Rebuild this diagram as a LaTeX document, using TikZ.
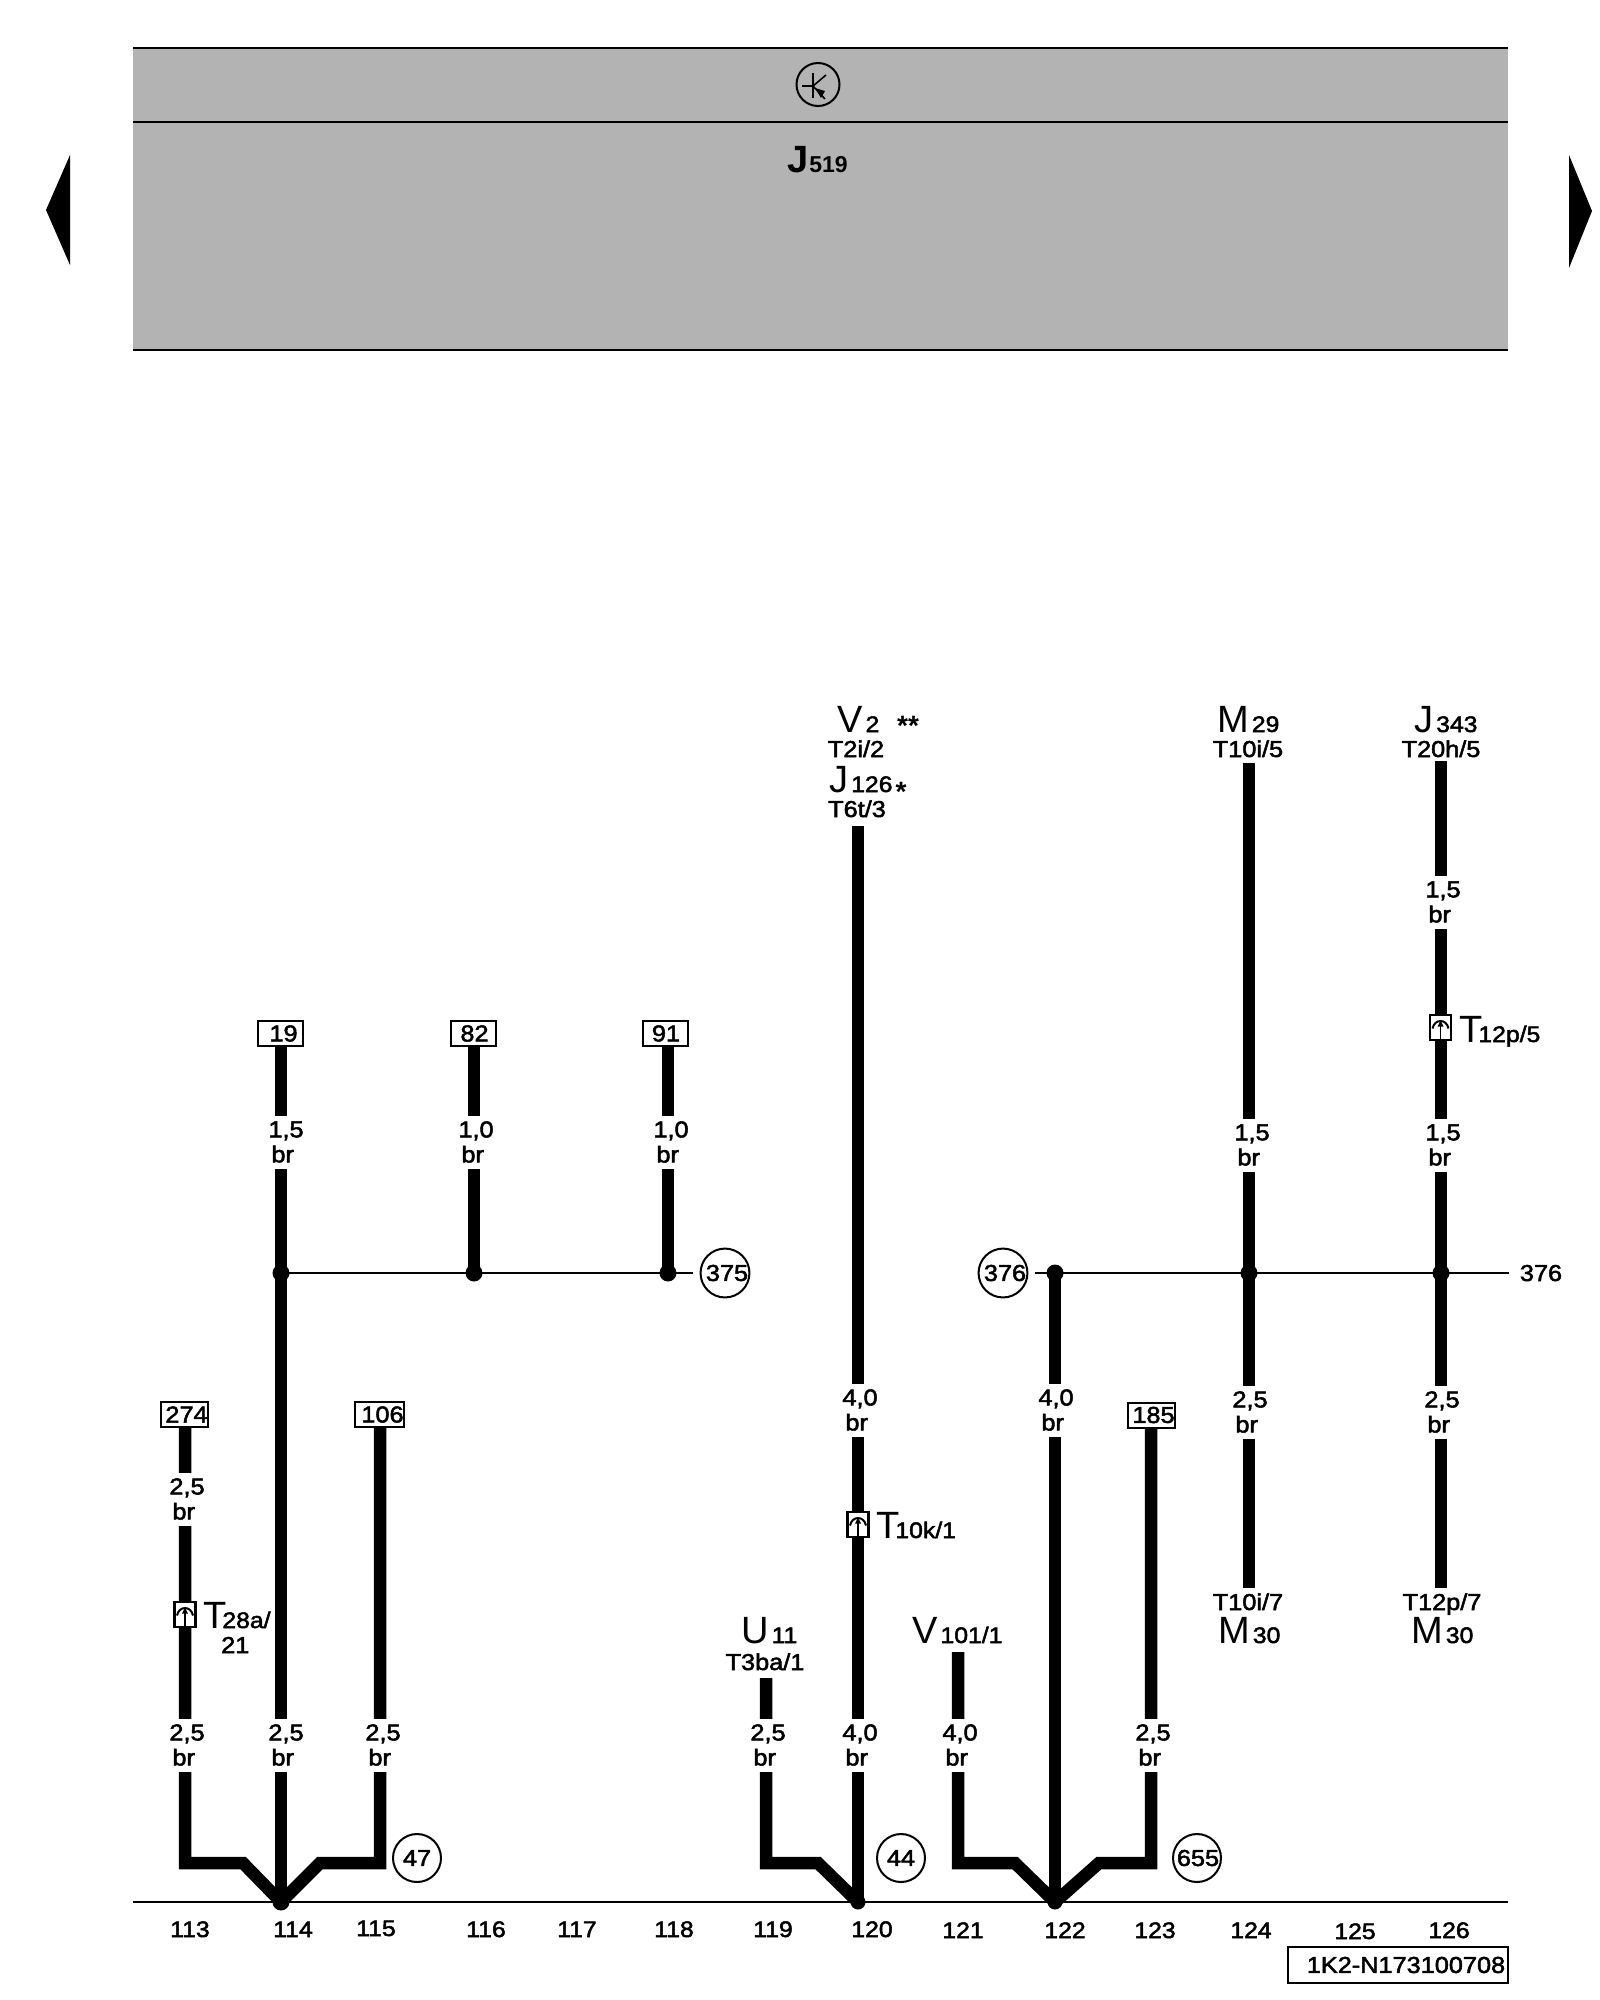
\documentclass[tikz,border=0pt]{standalone}
\usepackage{fontspec}
\setmainfont{Liberation Sans}[BoldFont=Liberation Sans,BoldFeatures={FakeBold=2.2,FakeStretch=1.1}]
\newfontfamily\heavyfont{Liberation Sans Bold}
\newcommand{\subname}[1]{\kern3pt{\bfseries\fontsize{22.5}{22.5}\selectfont #1}}
\newcommand{\brown}{\hspace*{3pt}br}
\definecolor{panelgray}{RGB}{179,179,179}
\tikzset{
    wire/.style={line width=12.5pt},
    thinwire/.style={line width=2pt},
    bigname/.style={anchor=base west,inner sep=0pt,font=\fontsize{38}{38}\selectfont},
    pinname/.style={anchor=base,inner sep=0pt,font=\bfseries\fontsize{23}{23}\selectfont},
    gauge/.style={fill=white,inner sep=0pt,align=left,minimum height=53pt,font=\bfseries\fontsize{23}{25}\selectfont},
    refbox/.style={draw,fill=white,line width=2pt,inner sep=0pt,minimum width=45pt,minimum height=25pt,font=\bfseries\fontsize{23}{23}\selectfont},
    refcircle/.style={circle,draw,line width=2pt,inner sep=0pt,minimum size=48pt,font=\bfseries\fontsize{23}{23}\selectfont},
    junction/.style={circle,fill=black,inner sep=0pt,minimum size=17pt},
    sheetno/.style={anchor=base,inner sep=0pt,font=\bfseries\fontsize{22.5}{22.5}\selectfont},
    plug/.pic={
        \draw [line width=2.4pt,fill=white] (-10.5,-12.5) rectangle (10.5,12.5);
        \draw [line width=2pt] (-8,1) .. controls (-6,-9) and (6,-9) .. (8,1);
        \draw [line width=1.8pt] (0,-5) -- (0,12);
        \fill (0,-7) -- (-3,-1) -- (3,-1) -- cycle;
    }
}
\begin{document}
\begin{tikzpicture}[line join=miter,x=1pt,y=-1pt]
    \useasboundingbox (0,0) rectangle (1600,2000);
    % control unit panel
    \fill [panelgray] (133,48) rectangle (1508,350);
    \draw [line width=2pt] (133,48) -- (1508,48);
    \draw [line width=2pt] (133,121.5) -- (1508,121.5);
    \draw [line width=2pt] (133,350) -- (1508,350);
    \draw [line width=2pt] (818,84.5) circle (21.5pt);
    \draw [line width=1.6pt] (813,73) -- (813,98);
    \draw [line width=1.6pt] (802,86) -- (813,86);
    \draw [line width=1.6pt] (813,86) -- (826,75);
    \draw [line width=1.6pt] (813,86) -- (825,99);
    \fill (815,88) -- (825,91) -- (821,98) -- cycle;
    \node [bigname,font=\heavyfont\fontsize{38}{38}\selectfont] (j519) at (787,172) {J\kern1pt{\fontsize{23}{23}\selectfont 519}};
    % page arrows
    \fill [line join=round] (70,155) -- (46,210) -- (70,265) -- cycle;
    \fill [line join=round] (1569,155) -- (1592,211) -- (1569,268) -- cycle;
    % terminals
    \node [refbox] (r19) at (280.5,1033.5) {\hspace*{6pt}19};
    \node [refbox] (r82) at (473,1033.5) {\hspace*{3pt}82};
    \node [refbox] (r91) at (665.5,1033.5) {\hspace*{1pt}91};
    \node [refbox] (r274) at (184.5,1414.5) {\hspace*{4pt}274};
    \node [refbox] (r106) at (379.5,1414.5) {\hspace*{6pt}106};
    \node [refbox] (r185) at (1151.5,1415) {\hspace*{4pt}185};
    % junctions
    \node [junction] (n19) at (281,1273) {};
    \node [junction] (n82) at (474,1273) {};
    \node [junction] (n91) at (668,1273) {};
    \node [junction] (n122) at (1055,1273) {};
    \node [junction] (n124) at (1249,1273) {};
    \node [junction] (n126) at (1441,1273) {};
    \node [junction] (g114) at (281,1902) {};
    \node [junction,minimum size=15pt] (g120) at (858,1902) {};
    \node [junction,minimum size=15pt] (g122) at (1055,1902) {};
    % free ends and bends
    \coordinate (e120) at (858,826);
    \coordinate (e124) at (1249,763);
    \coordinate (e126) at (1441,761);
    \coordinate (f124) at (1249,1588);
    \coordinate (f126) at (1441,1588);
    \coordinate (e119) at (766,1678);
    \coordinate (e121) at (958,1652);
    \coordinate (c113) at (185,1863);
    \coordinate (d113) at (243,1863);
    \coordinate (c115) at (380,1863);
    \coordinate (d115) at (320,1863);
    \coordinate (c119) at (766,1863);
    \coordinate (d119) at (818,1863);
    \coordinate (c121) at (958,1863);
    \coordinate (d121) at (1015,1863);
    \coordinate (c123) at (1151,1863);
    \coordinate (d123) at (1099,1863);
    \coordinate (bl) at (133,1902);
    \coordinate (br) at (1508,1902);
    \coordinate (sl) at (1035,1273);
    \coordinate (sr) at (1509,1273);
    \coordinate (st) at (693,1273);
    % thin lines
    \draw [thinwire] (bl) -- (br);
    \draw [thinwire] (n19.center) -- (st);
    \draw [thinwire] (sl) -- (sr);
    % wires
    \draw [wire] (r19.south -| n19) -- (g114.center);
    \draw [wire] (r82.south -| n82) -- (n82.center);
    \draw [wire] (r91.south -| n91) -- (n91.center);
    \draw [wire] (e120) -- (g120.center);
    \draw [wire] (n122.center) -- (g122.center);
    \draw [wire] (e124) -- (f124);
    \draw [wire] (e126) -- (f126);
    \draw [wire] (r274.south -| c113) -- (c113) -- (d113) -- (g114.center);
    \draw [wire] (r106.south -| c115) -- (c115) -- (d115) -- (g114.center);
    \draw [wire] (e119) -- (c119) -- (d119) -- (g120.center);
    \draw [wire] (e121) -- (c121) -- (d121) -- (g122.center);
    \draw [wire] (r185.south -| c123) -- (c123) -- (d123) -- (g122.center);
    % wire sizes
    \node [gauge] (w1) at (187,1499) {2,5\\\brown};
    \node [gauge] (w2) at (187,1745) {2,5\\\brown};
    \node [gauge] (w3) at (286,1745) {2,5\\\brown};
    \node [gauge] (w4) at (383,1745) {2,5\\\brown};
    \node [gauge] (w5) at (286,1142) {1,5\\\brown};
    \node [gauge] (w6) at (476,1142) {1,0\\\brown};
    \node [gauge] (w7) at (671,1142) {1,0\\\brown};
    \node [gauge] (w8) at (768,1745) {2,5\\\brown};
    \node [gauge] (w9) at (860,1745) {4,0\\\brown};
    \node [gauge] (w10) at (960,1745) {4,0\\\brown};
    \node [gauge] (w11) at (1153,1745) {2,5\\\brown};
    \node [gauge] (w12) at (860,1410) {4,0\\\brown};
    \node [gauge] (w13) at (1056,1410) {4,0\\\brown};
    \node [gauge] (w14) at (1252,1145) {1,5\\\brown};
    \node [gauge] (w15) at (1443,1145) {1,5\\\brown};
    \node [gauge] (w16) at (1250,1412) {2,5\\\brown};
    \node [gauge] (w17) at (1442,1412) {2,5\\\brown};
    \node [gauge] (w18) at (1443,902) {1,5\\\brown};
    % connectors
    \pic at (185,1614.5) {plug};
    \pic at (858,1524.5) {plug};
    \pic at (1440.5,1027.5) {plug};
    \node [bigname] (t28) at (203,1628) {T\kern-7pt\subname{28a/}};
    \node [pinname,anchor=base west] (t28b) at (221,1653) {21};
    \node [bigname] (t10) at (876,1538) {T\kern-7pt\subname{10k/1}};
    \node [bigname] (t12) at (1459,1042) {T\kern-7pt\subname{12p/5}};
    % ground and link marks
    \node [refcircle] (c47) at (417,1858) {47};
    \node [refcircle] (c44) at (901,1858) {44};
    \node [refcircle] (c655) at (1197,1858) {\hspace*{2pt}655};
    \node [refcircle] (c375) at (725,1273) {\hspace*{4pt}375};
    \node [refcircle] (c376) at (1003,1273) {\hspace*{4pt}376};
    \node [pinname] (l376) at (1541,1281) {376};
    % components
    \node [bigname] (v2) at (837,732) {V\subname{2}};
    \node [pinname,font=\heavyfont\fontsize{28}{28}\selectfont] (s2) at (908,735) {**};
    \node [pinname] (p1) at (856,757) {T2i/2};
    \node [bigname] (j126) at (829,792) {J\subname{126}};
    \node [pinname,font=\heavyfont\fontsize{28}{28}\selectfont] (s1) at (901,801) {*};
    \node [pinname] (p2) at (857,817) {T6t/3};
    \node [bigname] (m29) at (1217,732) {M\subname{29}};
    \node [pinname] (p3) at (1248,757) {T10i/5};
    \node [bigname] (j343) at (1414,732) {J\subname{343}};
    \node [pinname] (p4) at (1441,757) {T20h/5};
    \node [bigname] (u11) at (741,1643) {U\subname{11}};
    \node [pinname] (p5) at (765,1670) {T3ba/1};
    \node [bigname] (v101) at (912,1643) {V\subname{101/1}};
    \node [pinname] (p6) at (1248,1610) {T10i/7};
    \node [bigname] (m30a) at (1218,1643) {M\subname{30}};
    \node [pinname] (p7) at (1442,1610) {T12p/7};
    \node [bigname] (m30b) at (1411,1643) {M\subname{30}};
    % sheet numbers
    \node [sheetno] (s113) at (190,1937) {113};
    \node [sheetno] (s114) at (293,1937) {114};
    \node [sheetno] (s115) at (376,1936) {115};
    \node [sheetno] (s116) at (486,1937) {116};
    \node [sheetno] (s117) at (577,1937) {117};
    \node [sheetno] (s118) at (674,1937) {118};
    \node [sheetno] (s119) at (773,1937) {119};
    \node [sheetno] (s120) at (872,1937) {120};
    \node [sheetno] (s121) at (963,1938) {121};
    \node [sheetno] (s122) at (1065,1938) {122};
    \node [sheetno] (s123) at (1155,1938) {123};
    \node [sheetno] (s124) at (1251,1938) {124};
    \node [sheetno] (s125) at (1355,1939) {125};
    \node [sheetno] (s126) at (1449,1938) {126};
    \node [draw,line width=2pt,minimum width=220pt,minimum height=36pt,inner sep=0pt,font=\bfseries\fontsize{23}{23}\selectfont] (code) at (1398,1965) {\hspace*{16pt}1K2-N173100708};
\end{tikzpicture}
\end{document}
